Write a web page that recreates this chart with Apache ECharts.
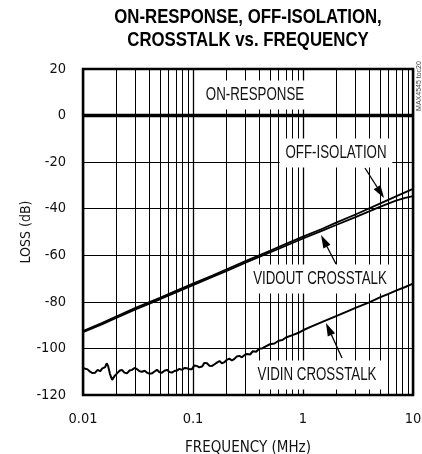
<!DOCTYPE html>
<html>
<head>
<meta charset="utf-8">
<script src="https://cdn.jsdelivr.net/npm/echarts@6/dist/echarts.min.js"></script>
<style>
  html, body { margin: 0; padding: 0; background: #fff; }
  #chart { width: 422px; height: 454px; }
</style>
</head>
<body>
<div id="chart"></div>
<script>
// axis ticks
var xTicks = [0.01, 0.1, 1, 10];
var xTickLabels = ['0.01', '0.1', '1', '10'];
var minorGrid = [0.02, 0.03, 0.04, 0.05, 0.06, 0.07, 0.08, 0.09,
                 0.2, 0.3, 0.4, 0.5, 0.6, 0.7, 0.8, 0.9,
                 2, 3, 4, 5, 6, 7, 8, 9];

// ON-RESPONSE
var onFreq = [0.01, 10];
var onLoss = [0, 0];

// OFF-ISOLATION
var isoFreq = [0.01, 0.015, 0.02, 0.03, 0.05, 0.07, 0.1, 0.15, 0.2, 0.3, 0.5, 0.7, 1, 1.5, 2, 3, 5, 7, 10];
var isoLoss = [-92.5, -89, -86.3, -82.6, -78.3, -75.3, -72.2, -68.7, -66.1, -62.5, -58.1, -55.1, -52, -48.6, -46, -42.5, -37.8, -34.7, -31.5];

// VIDOUT CROSSTALK
var vidoutFreq = [0.01, 0.015, 0.02, 0.03, 0.05, 0.07, 0.1, 0.15, 0.2, 0.3, 0.5, 0.7, 1, 1.5, 2, 3, 5, 7, 8.5, 10];
var vidoutLoss = [-93, -89.6, -86.9, -83.2, -78.9, -75.9, -72.8, -69.3, -66.8, -63.2, -58.8, -55.9, -52.8, -49.4, -47, -43.6, -39.2, -36.5, -35.3, -34.6];

// VIDIN CROSSTALK
var vidinFreq = [0.0101, 0.0104, 0.011, 0.0116, 0.0122, 0.0129, 0.0136, 0.0143, 0.015, 0.0159, 0.0164, 0.0169, 0.0176, 0.0184,
                 0.0194, 0.0204, 0.0215, 0.0226, 0.0238, 0.0251, 0.0265, 0.0279, 0.0294, 0.031, 0.0327, 0.0344, 0.0363,
                 0.0382, 0.0403, 0.0424, 0.0447, 0.047, 0.0496, 0.0522, 0.055, 0.058, 0.061, 0.0643, 0.0678, 0.0714,
                 0.0752, 0.0793, 0.0835, 0.088, 0.0928, 0.0977, 0.103, 0.108, 0.114, 0.121, 0.127, 0.134, 0.141,
                 0.149, 0.157, 0.165, 0.174, 0.183, 0.193, 0.203, 0.214, 0.226, 0.238, 0.25, 0.264, 0.278, 0.293, 0.309,
                 0.33, 0.35, 0.375, 0.4, 0.43, 0.45, 0.5, 0.55, 0.6, 0.65, 0.7, 0.8, 0.9, 1, 1.2, 1.5, 2, 2.5, 3, 4, 5, 6, 7, 8.5, 10];
var vidinLoss = [-108.5, -107.8, -109, -110, -110.6, -110.4, -109.2, -109.8, -108.6, -108, -106.4, -107.5, -111, -113.5,
                 -111.8, -110.7, -109.6, -109.2, -110.4, -110.7, -109.5, -109.2, -108.4, -108.9, -109.8, -110, -109.6,
                 -110.4, -110.9, -110.7, -109.9, -109.2, -110.2, -110.4, -109.6, -109.2, -110.1, -110.4, -109.7, -109.5,
                 -108.8, -109.2, -108.4, -108.5, -108.9, -108.9, -107.3, -107.5, -108.1, -107.8, -106.2, -106.4, -107.4,
                 -107.5, -106.8, -106.1, -105.4, -106.4, -105.9, -104.9, -104.4, -105.2, -104.5, -103.5, -103.2, -103.8, -102.9, -102.4,
                 -102.6, -101.2, -101.4, -100.1, -99.9, -99.3, -98.2, -97.9, -96.7, -96.4, -95.3, -94.3, -93.4, -92.2, -90.5, -88.6, -86.1, -84.2, -82.6, -80.2, -78.1, -76.6, -75.2, -73.6, -72.2];

var FONT = '"DejaVu Sans Condensed", "Liberation Sans", sans-serif';
var HELV = '"Liberation Sans", Arial, sans-serif';

function pairs(xs, ys) {
  var out = [];
  for (var i = 0; i < xs.length; i++) out.push([xs[i], ys[i]]);
  return out;
}

function lineSeries(name, xs, ys, width) {
  return {
    name: name,
    type: 'line',
    data: pairs(xs, ys),
    showSymbol: false,
    symbol: 'none',
    z: 200,
    lineStyle: { color: '#000', width: width },
    animation: false
  };
}

// arrow: line from tail to tip plus a filled head
function arrow(x1, y1, x2, y2) {
  var dx = x2 - x1, dy = y2 - y1;
  var len = Math.sqrt(dx * dx + dy * dy);
  var ux = dx / len, uy = dy / len;
  var hl = 13, hw = 4;
  var bx = x2 - ux * hl, by = y2 - uy * hl;
  return [
    { type: 'line', z: 101, shape: { x1: x1, y1: y1, x2: bx, y2: by }, style: { stroke: '#000', lineWidth: 1.3 } },
    { type: 'polygon', z: 101, shape: { points: [[x2, y2], [bx - uy * hw, by + ux * hw], [bx + uy * hw, by - ux * hw]] }, style: { fill: '#000' } }
  ];
}

// condensed text: regular face squeezed horizontally
function label(text, cx, cy, size, sx, weight, bg) {
  var st = {
    text: text, x: 0, y: 0,
    font: (weight || 'normal') + ' ' + size + 'px ' + HELV,
    fill: weight ? '#000' : '#111',
    align: 'center', verticalAlign: 'middle'
  };
  if (bg) { st.backgroundColor = '#fff'; st.padding = [5, 8]; }
  return { type: 'text', z: 100, x: cx, y: cy, scaleX: sx, style: st };
}

var chart = echarts.init(document.getElementById('chart'));

var graphics = [
  label('ON-RESPONSE, OFF-ISOLATION,', 248, 17, 21, 0.8, 'bold'),
  label('CROSSTALK vs. FREQUENCY', 248, 40.5, 21, 0.8, 'bold'),
  label('ON-RESPONSE', 255, 95, 18.5, 0.72, null, true),
  label('OFF-ISOLATION', 336, 153, 18.5, 0.72, null, true),
  label('VIDOUT CROSSTALK', 320, 279, 18.5, 0.72, null, true),
  label('VIDIN CROSSTALK', 317, 375, 18.5, 0.72, null, true),
  {
    type: 'text', z: 100, x: 419, y: 86, rotation: Math.PI / 2,
    style: { text: 'MAX4545 toc20', font: '7px ' + HELV, fill: '#444', align: 'center', verticalAlign: 'middle' }
  }
].concat(arrow(365, 168, 384, 198))
 .concat(arrow(336, 264, 321, 235))
 .concat(arrow(342, 358, 326, 323));

var option = {
  animation: false,
  backgroundColor: '#fff',
  grid: {
    left: 83, right: 9, top: 69, bottom: 59,
    outerBoundsMode: 'none',
    containLabel: false,
    show: true, borderColor: '#000', borderWidth: 2.5, backgroundColor: 'transparent'
  },
  xAxis: {
    type: 'log',
    logBase: 10,
    min: 0.01,
    max: 10,
    name: 'FREQUENCY (MHz)',
    nameLocation: 'middle',
    nameMoveOverlap: false,
    nameGap: 46,
    nameTextStyle: { fontFamily: FONT, fontSize: 15, color: '#111' },
    axisLine: { show: false },
    axisTick: { show: false },
    axisLabel: {
      margin: 17,
      fontFamily: FONT, fontSize: 14.5, color: '#111',
      formatter: function (v) {
        for (var i = 0; i < xTicks.length; i++) {
          if (Math.abs(Math.log10(xTicks[i]) - Math.log10(v)) < 1e-6) return xTickLabels[i];
        }
        return '';
      }
    },
    splitLine: { show: true, lineStyle: { color: '#000', width: 1.3 } },
    minorTick: { show: false },
    minorSplitLine: { show: false }
  },
  yAxis: {
    type: 'value',
    min: -120,
    max: 20,
    interval: 20,
    name: 'LOSS (dB)',
    nameLocation: 'middle',
    nameMoveOverlap: false,
    nameRotate: 90,
    nameGap: 50,
    nameTextStyle: { fontFamily: FONT, fontSize: 14, color: '#111' },
    axisLine: { show: false },
    axisTick: { show: false },
    axisLabel: { margin: 17, fontFamily: FONT, fontSize: 14.5, color: '#111' },
    splitLine: { show: true, lineStyle: { color: '#000', width: 1 } }
  },
  series: [
    {
      name: 'grid',
      type: 'line',
      data: [],
      z: 1,
      markLine: {
        silent: true,
        symbol: 'none',
        animation: false,
        label: { show: false },
        lineStyle: { color: '#000', width: 1, type: 'solid' },
        data: minorGrid.map(function (f) { return { xAxis: f }; })
      }
    },
    lineSeries('ON-RESPONSE', onFreq, onLoss, 3.5),
    lineSeries('OFF-ISOLATION', isoFreq, isoLoss, 1.8),
    lineSeries('VIDOUT CROSSTALK', vidoutFreq, vidoutLoss, 1.8),
    lineSeries('VIDIN CROSSTALK', vidinFreq, vidinLoss, 2)
  ],
  graphic: graphics
};

chart.setOption(option);
</script>
</body>
</html>
